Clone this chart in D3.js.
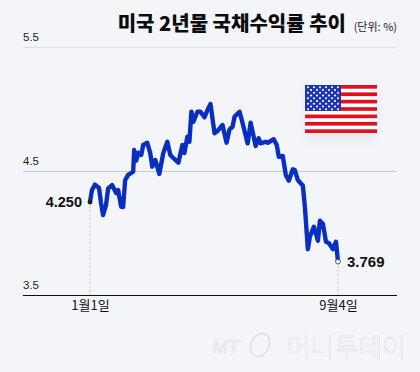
<!DOCTYPE html>
<html>
<head>
<meta charset="utf-8">
<script src="https://cdn.jsdelivr.net/npm/d3@7"></script>
<style>
  html, body { margin: 0; padding: 0; background: #f4f5f8; }
  svg { display: block; }
  text { font-family: "Noto Sans CJK KR", "Noto Sans", sans-serif; }
</style>
</head>
<body>
<div id="chart"></div>
<script>
// Day of the year and yield (%)
const days = [1, 3, 6, 10, 12, 14, 17, 19, 23, 27, 29, 32, 34, 36, 39, 44, 45, 47, 49, 52, 54, 58, 61, 63, 66, 70, 74, 78, 81, 84, 89, 93, 95, 98, 100, 102, 104, 108, 111, 115, 118, 121, 125, 129, 133, 137, 140, 143, 145, 150, 153, 158, 161, 166, 169, 171, 176, 178, 184, 187, 189, 193, 196, 199, 203, 205, 208, 213, 215, 218, 220, 224, 228, 230, 233, 236, 239, 243, 246, 248];
const yields = [4.25, 4.347, 4.39, 4.363, 4.242, 4.145, 4.226, 4.357, 4.387, 4.323, 4.347, 4.212, 4.21, 4.427, 4.468, 4.494, 4.669, 4.583, 4.648, 4.629, 4.71, 4.728, 4.645, 4.535, 4.589, 4.476, 4.645, 4.736, 4.629, 4.605, 4.567, 4.71, 4.645, 4.777, 4.736, 4.978, 4.898, 4.978, 4.978, 4.933, 4.992, 5.04, 4.804, 4.831, 4.871, 4.728, 4.836, 4.857, 4.938, 4.978, 4.885, 4.723, 4.89, 4.702, 4.764, 4.723, 4.736, 4.728, 4.756, 4.71, 4.615, 4.621, 4.468, 4.422, 4.514, 4.508, 4.427, 4.381, 4.212, 3.869, 3.97, 4.051, 3.938, 4.099, 4.073, 3.93, 3.917, 3.869, 3.93, 3.769];
const yTicks = [3.5, 4.5, 5.5];
const xTicks = [1, 248];
const xLabels = ['1월1일', '9월4일'];
const endLabels = ['4.250', '3.769'];

const svg = d3.select('#chart').append('svg')
    .attr('width', 420)
    .attr('height', 372);

svg.append('rect').attr('width', 420).attr('height', 372).attr('fill', '#f4f5f8');

const x = d3.scaleLinear().domain([1, 248]).range([90, 338]);
const y = d3.scaleLinear().domain([3.5, 5.5]).range([295, 47]);

// Title
svg.append('text')
    .attr('x', 346).attr('y', 31)
    .attr('text-anchor', 'end')
    .attr('font-size', 20).attr('font-weight', 900).attr('fill', '#0c0c0c')
    .text('미국 2년물 국채수익률 추이');
svg.append('text')
    .attr('x', 397).attr('y', 31)
    .attr('text-anchor', 'end')
    .attr('font-size', 11).attr('fill', '#222')
    .text('(단위: %)');

// Y axis, the tick lines are the grid
const yAxis = svg.append('g')
    .attr('transform', 'translate(23,0)')
    .call(d3.axisRight(y).tickValues(yTicks).tickSize(374).tickFormat(d3.format('.1f')));
yAxis.select('.domain').remove();
yAxis.selectAll('line')
    .attr('stroke', d => d === 3.5 ? '#111' : d === 5.5 ? '#e0e2e8' : '#c6c8d2')
    .attr('stroke-width', d => d === 5.5 ? 1.5 : 1);
yAxis.selectAll('text')
    .attr('x', 0).attr('dy', -7)
    .attr('text-anchor', 'start')
    .attr('font-size', 11.5).attr('fill', '#222')
    .style('font-family', '"Liberation Sans", sans-serif');

// X axis labels
const xAxis = svg.append('g')
    .attr('transform', 'translate(0,295)')
    .call(d3.axisBottom(x).tickValues(xTicks).tickSize(0).tickFormat((d, i) => xLabels[i]));
xAxis.select('.domain').remove();
xAxis.selectAll('text')
    .attr('y', 6).attr('font-size', 13).attr('fill', '#111');

// Dotted drop lines at both ends
svg.selectAll('.drop')
    .data([0, days.length - 1])
    .join('line')
    .attr('class', 'drop')
    .attr('x1', i => x(days[i])).attr('x2', i => x(days[i]))
    .attr('y1', i => y(yields[i])).attr('y2', y(3.5))
    .attr('stroke', '#c0c3cc').attr('stroke-dasharray', '2,2');

// Flag
const flag = svg.append('g').attr('transform', 'translate(305,85)');
const flagW = 72, flagH = 48;
const stripe = d3.scaleBand().domain(d3.range(13)).range([0, flagH]);
const blur = svg.append('defs').append('filter').attr('id', 'soft')
    .attr('x', '-30%').attr('y', '-30%').attr('width', '160%').attr('height', '170%');
blur.append('feGaussianBlur').attr('stdDeviation', 6);
flag.append('rect')
    .attr('x', 1).attr('y', 5).attr('width', flagW - 2).attr('height', flagH)
    .attr('fill', '#c9ccd6').attr('opacity', 0.4).attr('filter', 'url(#soft)');
flag.append('rect').attr('width', flagW).attr('height', flagH).attr('fill', '#fff');
flag.selectAll('.stripe')
    .data(d3.range(0, 13, 2))
    .join('rect')
    .attr('class', 'stripe')
    .attr('y', d => stripe(d))
    .attr('width', flagW)
    .attr('height', stripe.bandwidth())
    .attr('fill', '#e1101f');
flag.append('rect')
    .attr('width', 36).attr('height', stripe(7))
    .attr('fill', '#1c35b5');
for (let r = 0; r < 9; r++) {
    const n = r % 2 ? 5 : 6;
    for (let c = 0; c < n; c++) {
        flag.append('circle')
            .attr('cx', (r % 2 ? 6 : 3) + c * 6)
            .attr('cy', 2.2 + r * 2.75)
            .attr('r', 1.05)
            .attr('fill', '#fff');
    }
}

// Yield line
const line = d3.line()
    .x((d, i) => x(days[i]))
    .y(d => y(d))
    .curve(d3.curveLinear);

svg.append('path')
    .attr('d', line(yields))
    .attr('fill', 'none')
    .attr('stroke', '#0a2fc0')
    .attr('stroke-width', 4.4)
    .attr('stroke-linejoin', 'round')
    .attr('stroke-linecap', 'round');

// End points
svg.append('circle')
    .attr('cx', x(days[0])).attr('cy', y(yields[0])).attr('r', 2.4)
    .attr('fill', '#222');
svg.append('circle')
    .attr('cx', x(days[days.length - 1])).attr('cy', y(yields[yields.length - 1])).attr('r', 2.4)
    .attr('fill', '#fff').attr('stroke', '#334').attr('stroke-width', 0.8);

svg.append('text')
    .attr('x', 82).attr('y', y(yields[0]) + 5)
    .attr('text-anchor', 'end')
    .attr('font-size', 14.5).attr('font-weight', 700).attr('fill', '#111')
    .style('font-family', '"Liberation Sans", sans-serif')
    .text(endLabels[0]);
svg.append('text')
    .attr('x', 347).attr('y', y(yields[yields.length - 1]) + 5)
    .attr('font-size', 15).attr('font-weight', 700).attr('fill', '#111')
    .style('font-family', '"Liberation Sans", sans-serif')
    .text(endLabels[1]);

// Watermark
svg.append('text')
    .attr('x', 212).attr('y', 353)
    .attr('font-size', 19).attr('font-style', 'italic').attr('font-weight', 400)
    .attr('fill', '#f9f9fb').attr('stroke', '#d4d6dc').attr('stroke-width', 0.5)
    .style('font-family', '"Liberation Sans", sans-serif')
    .text('MT');
svg.append('ellipse')
    .attr('cx', 260).attr('cy', 345).attr('rx', 9).attr('ry', 12)
    .attr('transform', 'rotate(25 260 345)')
    .attr('fill', 'none').attr('stroke', '#d8dae0').attr('stroke-width', 1.2);
svg.append('text')
    .attr('x', 406).attr('y', 357)
    .attr('text-anchor', 'end')
    .attr('font-size', 26).attr('font-weight', 300)
    .attr('fill', '#f9f9fb').attr('stroke', '#d8dae0').attr('stroke-width', 0.4)
    .text('머니투데이');
</script>
</body>
</html>
